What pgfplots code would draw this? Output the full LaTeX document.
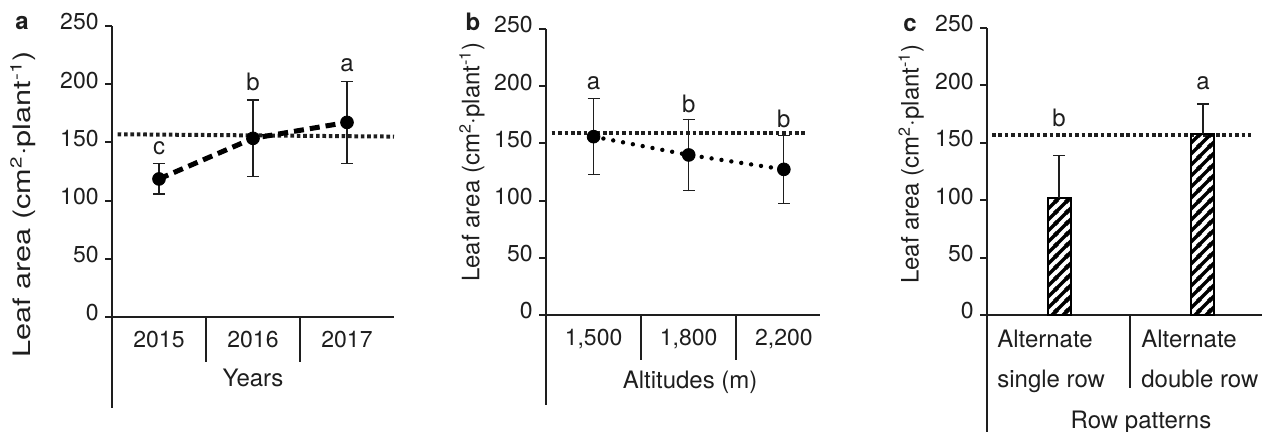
\documentclass[border=0pt]{standalone}
\usepackage{fontspec}
\setmainfont{TeX Gyre Heros}
\usepackage{graphicx}
\usepackage{pgfplots}
\pgfplotsset{compat=1.18}
\usetikzlibrary{patterns.meta}
\definecolor{ink}{RGB}{30,30,30}

\tikzdeclarepattern{
  name=thickstripes,
  type=uncolored,
  bottom left={(0pt,0pt)},
  top right={(5.5pt,5.5pt)},
  tile size={(5.5pt,5.5pt)},
  code={
    \draw[line width=1.8pt] (-1pt,-1pt) -- (6.5pt,6.5pt);
    \draw[line width=1.8pt] (-1pt,4.5pt) -- (1pt,6.5pt);
    \draw[line width=1.8pt] (4.5pt,-1pt) -- (6.5pt,1pt);
  }
}

\tikzset{letter/.style={font=\fontsize{12}{14}\selectfont, text=ink}}

\pgfplotsset{
  panel/.style={
    scale only axis,
    clip=false,
    axis lines=left,
    axis line style={-, line width=1pt, ink},
    every outer x axis line/.append style={-},
    every outer y axis line/.append style={-},
    ymin=0, ymax=250,
    ytick={0,50,100,150,200,250},
    tick align=outside,
    major tick length=3.5pt,
    y tick style={line width=1pt, ink},
    x tick style={draw=none},
    /pgf/number format/assume math mode=true,
    tick label style={font=\fontsize{11.5}{14}\selectfont, text=ink},
    yticklabel style={anchor=east, inner sep=0pt, xshift=-3pt, yshift=2pt},
    xticklabel style={anchor=north, inner sep=0pt, yshift=-3.5pt},
    label style={font=\fontsize{12}{14}\selectfont, text=ink},
    errbars/.style={
      error bars/.cd, y dir=both, y explicit,
      error bar style={solid, line width=0.6pt, ink},
      error mark options={solid, rotate=90, mark size=3pt, line width=0.6pt, ink},
    },
  },
}

\begin{document}
\begin{tikzpicture}
\useasboundingbox (0pt,0pt) rectangle (631pt,-216pt);

% ---------------- panel a ----------------
\begin{axis}[panel,
  at={(56pt,-158.5pt)}, anchor=south west,
  width=141pt, height=145.5pt,
  xmin=-0.5, xmax=2.5,
  xtick={0,1,2}, xticklabels={2015,2016,2017},
  xlabel={Years},
  xlabel style={at={(axis description cs:0.5,0)}, anchor=base, yshift=-34.5pt},
  ylabel={\scalebox{1.28}[1]{Leaf area (cm\textsuperscript{2}·plant\textsuperscript{-1})}},
  ylabel style={at={(axis description cs:-0.316,0.387)}, anchor=center},
]
\addplot[ink, line width=2pt, dash pattern=on 1.8pt off 1.4pt] coordinates {(-0.44,157) (2.5,155)};
\addplot[black, line width=2.5pt, dash pattern=on 5pt off 3pt,
  mark=*, mark size=3.2pt, mark options={solid, line width=0.4pt, fill=black},
  errbars] coordinates {
  (0,118.6) +- (0,13)
  (1,153.5) +- (0,33)
  (2,167.2) +- (0,35)
};
\node[letter] at (axis cs:0,145) {c};
\node[letter] at (axis cs:1,202) {b};
\node[letter] at (axis cs:2,216.5) {a};
\draw[line width=1pt, ink] (rel axis cs:0,0) -- ++(0pt,-45.5pt);
\draw[line width=0.8pt, ink] (axis cs:0.5,0) -- ++(0pt,-22.5pt);
\draw[line width=0.8pt, ink] (axis cs:1.5,0) -- ++(0pt,-22.5pt);
\end{axis}

% ---------------- panel b ----------------
\begin{axis}[panel,
  at={(273pt,-157.5pt)}, anchor=south west,
  width=137pt, height=143pt,
  xmin=-0.5, xmax=2.38,
  xtick={0,1,2}, xticklabels={{1,500},{1,800},{2,200}},
  xlabel={Altitudes (m)},
  xlabel style={at={(axis description cs:0.526,0)}, anchor=base, yshift=-36.5pt},
  ylabel={Leaf area (cm\textsuperscript{2}·plant\textsuperscript{-1})},
  ylabel style={at={(axis description cs:-0.27,0.535)}, anchor=center},
]
\addplot[ink, line width=2pt, dash pattern=on 1.8pt off 1.4pt] coordinates {(-0.44,159.4) (2.25,159.4)};
\addplot[black, line width=2.2pt, dash pattern=on 0pt off 5pt, line cap=round,
  mark=*, mark size=3.2pt, mark options={solid, line width=0.4pt, fill=black},
  errbars] coordinates {
  (0,155.9) +- (0,33)
  (1,139.9) +- (0,31)
  (2,127.3) +- (0,29.5)
};
\node[letter] at (axis cs:0,202.5) {a};
\node[letter] at (axis cs:1,184.4) {b};
\node[letter] at (axis cs:2,171) {b};
\draw[line width=1pt, ink] (rel axis cs:0,0) -- ++(0pt,-45pt);
\draw[line width=0.8pt, ink] (axis cs:0.5,0) -- ++(0pt,-22.5pt);
\draw[line width=0.8pt, ink] (axis cs:1.5,0) -- ++(0pt,-22.5pt);
\end{axis}

% ---------------- panel c ----------------
\begin{axis}[panel,
  at={(493.5pt,-157.5pt)}, anchor=south west,
  width=137.5pt, height=143.5pt,
  xmin=-0.5, xmax=1.41,
  xtick={0,1}, xticklabels={{Alternate\\single row},{Alternate\\double row}},
  xticklabel style={anchor=north west, align=left, inner sep=0pt, xshift=-31pt, yshift=-0.5pt,
    font=\fontsize{12}{20}\selectfont},
  xlabel={Row patterns},
  xlabel style={at={(axis description cs:0.56,0)}, anchor=base, yshift=-56.5pt},
  ylabel={Leaf area (cm\textsuperscript{2}·plant\textsuperscript{-1})},
  ylabel style={at={(axis description cs:-0.276,0.526)}, anchor=center},
]
\addplot[ink, line width=2pt, dash pattern=on 1.8pt off 1.4pt] coordinates {(-0.465,157) (1.33,157)};
\addplot[ybar, bar width=11.5pt, draw=black, line width=1pt,
  pattern=thickstripes, pattern color=black,
  error bars/.cd, y dir=plus, y explicit,
  error bar style={line width=0.6pt, ink},
  error mark options={rotate=90, mark size=3pt, line width=0.6pt, ink}]
  coordinates {
  (0,102.2) +- (0,36.6)
  (1,157.4) +- (0,26.4)
};
\node[letter] at (axis cs:0,171.3) {b};
\node[letter] at (axis cs:1,201.8) {a};
\draw[line width=1pt, ink] (rel axis cs:0,0) -- ++(0pt,-60pt);
\draw[line width=0.8pt, ink] (axis cs:0.493,0) -- ++(0pt,-36.5pt);
\end{axis}

% panel letters
\node[font=\bfseries\fontsize{12}{14}\selectfont, text=ink] at (11pt,-11.5pt) {a};
\node[font=\bfseries\fontsize{12}{14}\selectfont, text=ink] at (236.5pt,-11pt) {b};
\node[font=\bfseries\fontsize{12}{14}\selectfont, text=ink] at (455pt,-12.5pt) {c};
\end{tikzpicture}
\end{document}
